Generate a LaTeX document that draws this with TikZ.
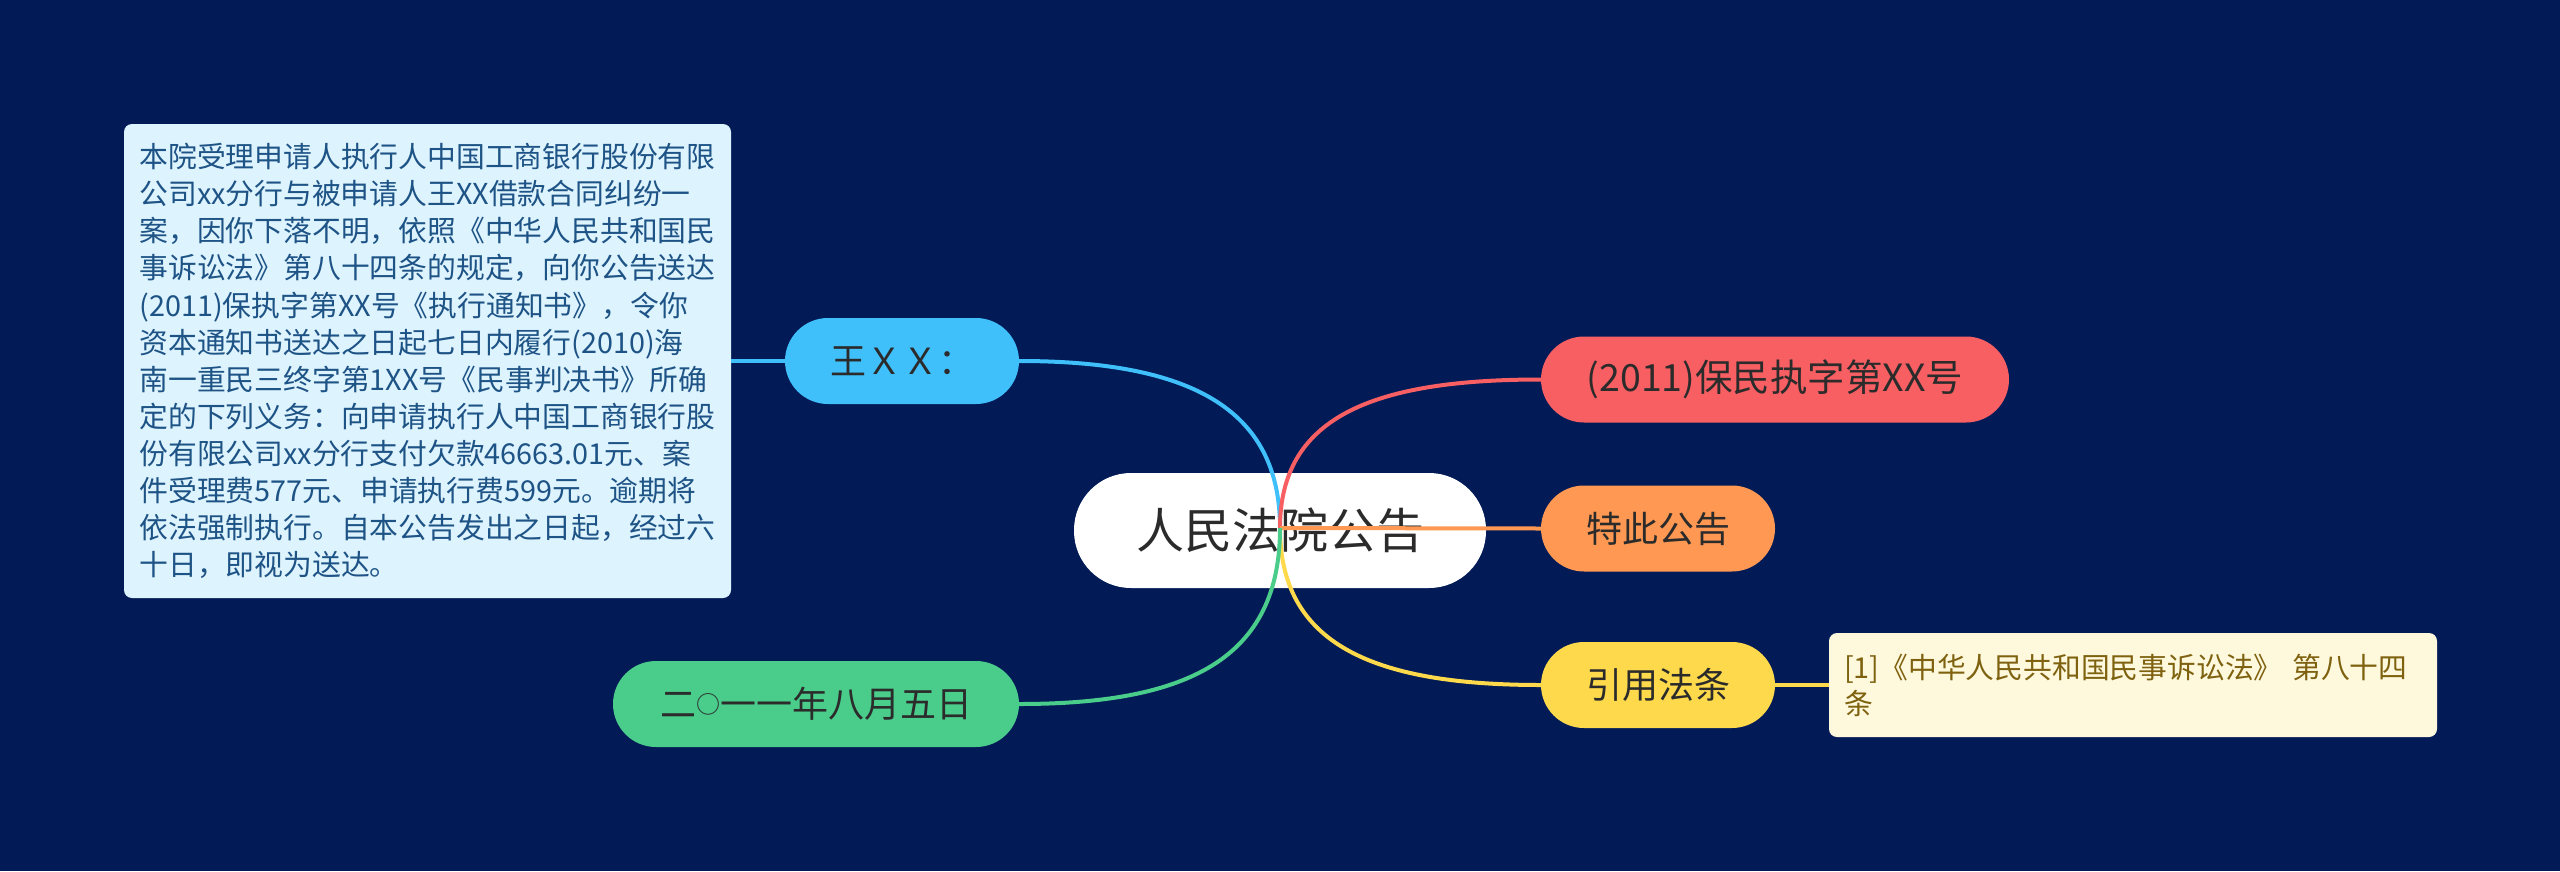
\documentclass[tikz,border=0pt]{standalone}
\usepackage{fontspec}
\setmainfont{Noto Sans CJK SC}
\definecolor{bg}{HTML}{021B57}
\definecolor{cblue}{HTML}{40C0FA}
\definecolor{detailfill}{HTML}{DDF3FD}
\definecolor{detailtext}{HTML}{1E5386}
\definecolor{cred}{HTML}{F75F63}
\definecolor{corange}{HTML}{FE9852}
\definecolor{cyellow}{HTML}{FED94B}
\definecolor{notefill}{HTML}{FEF8DC}
\definecolor{notetext}{HTML}{7E6210}
\definecolor{cgreen}{HTML}{4ACD8B}
\definecolor{textdark}{HTML}{2B2B2B}
\begin{document}
\begin{tikzpicture}[x=1pt,y=-1pt,
  rootbox/.style={fill=white, rounded corners=57pt, minimum width=412pt, minimum height=115pt, inner sep=0pt, text=textdark, font=\fontsize{48}{54}\selectfont},
  topic/.style={rounded corners=43pt, minimum height=86pt, inner sep=0pt, text=textdark, font=\fontsize{36}{40}\selectfont},
  detailbox/.style={fill=detailfill, rounded corners=8pt, minimum width=607pt, minimum height=474pt, inner xsep=15pt, inner ysep=0pt, align=left, text=detailtext, font=\fontsize{28.8}{37.1}\selectfont},
  notebox/.style={fill=notefill, rounded corners=8pt, minimum width=608pt, minimum height=104pt, inner xsep=15pt, inner ysep=0pt, align=left, text width=578pt, text=notetext, font=\fontsize{28.8}{36}\selectfont},
  link/.style={line width=4pt}]
\useasboundingbox[fill=bg] (0,0) rectangle (2560,871);
\node[rootbox] (root) at (1280,530.5) {人民法院公告};
\coordinate (hub) at (1280,528);
\node[topic, fill=cblue, minimum width=234pt] (wang) at (902,361) {王ＸＸ：};
\node[detailbox] (detail) at (427.5,361) {本院受理申请人执行人中国工商银行股份有限\\公司xx分行与被申请人王XX借款合同纠纷一\\案，因你下落不明，依照《中华人民共和国民\\事诉讼法》第八十四条的规定，向你公告送达\\(2011)保执字第XX号《执行通知书》，令你\\资本通知书送达之日起七日内履行(2010)海\\南一重民三终字第1XX号《民事判决书》所确\\定的下列义务：向申请执行人中国工商银行股\\份有限公司xx分行支付欠款46663.01元、案\\件受理费577元、申请执行费599元。逾期将\\依法强制执行。自本公告发出之日起，经过六\\十日，即视为送达。};
\node[topic, fill=cgreen, minimum width=406pt] (date) at (816,704) {二\raisebox{4.6pt}{\fontsize{24}{24}\selectfont ○}一一年八月五日};
\node[topic, fill=cred, minimum width=468pt, font=\fontsize{37.5}{42}\selectfont] (case) at (1775,379.5) {(2011)保民执字第XX号};
\node[topic, fill=corange, minimum width=234pt] (notice) at (1658,528.5) {特此公告};
\node[topic, fill=cyellow, minimum width=234pt] (law) at (1658,685) {引用法条};
\node[notebox] (note) at (2133,685) {[1]《中华人民共和国民事诉讼法》 第八十四\\条};
\draw[link, cblue] (wang.east) .. controls +(170,0) and +(0,-120) .. (hub);
\draw[link, cred] (hub) .. controls +(0,-110) and +(-170,0) .. (case.west);
\draw[link, corange] (hub) -- (notice.west);
\draw[link, cyellow] (hub) .. controls +(0,115) and +(-170,0) .. (law.west);
\draw[link, cgreen] (hub) .. controls +(0,130) and +(170,0) .. (date.east);
\draw[link, cblue, line width=3.5pt] (detail.east) -- (wang.west);
\draw[link, cyellow, line width=3.5pt] (law.east) -- (note.west);
\end{tikzpicture}
\end{document}
